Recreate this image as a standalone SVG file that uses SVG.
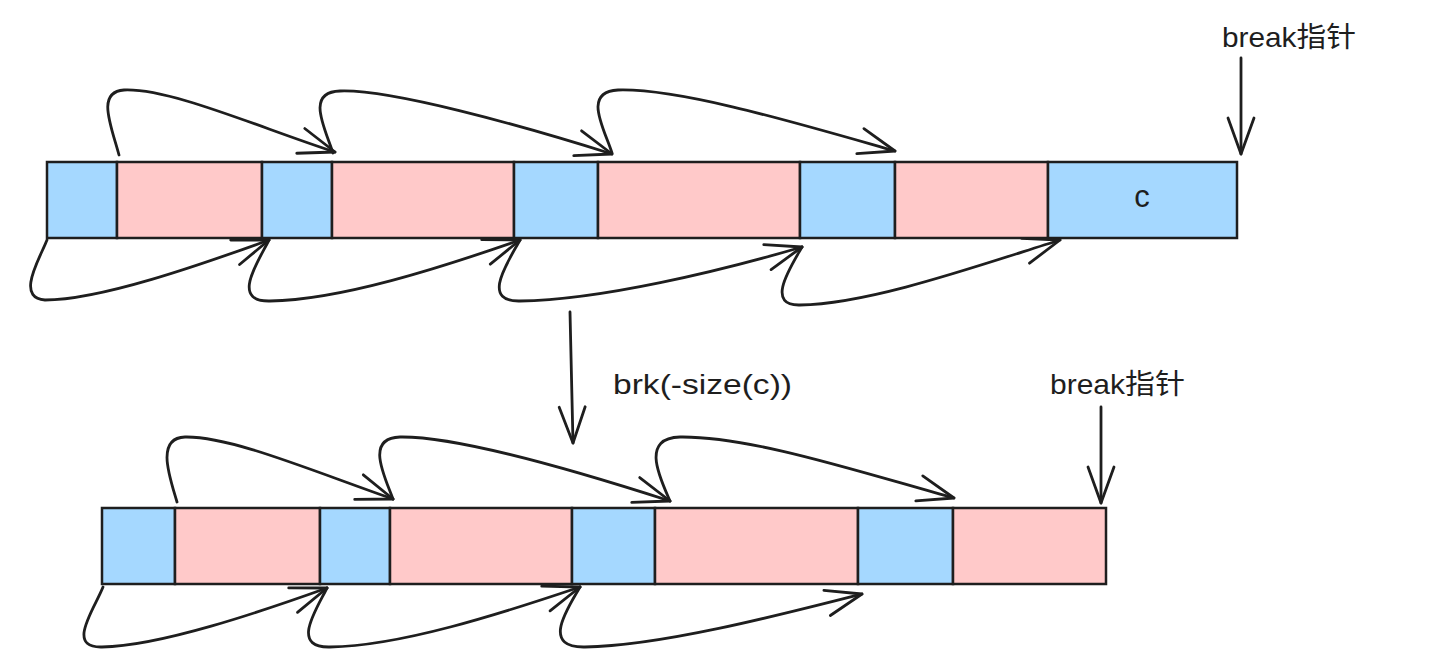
<svg xmlns="http://www.w3.org/2000/svg" width="1445" height="669" viewBox="0 0 1445 669">
<style>
.bg{fill:#ffffff}
.blue{fill:#a5d8ff;stroke:#1e1e1e;stroke-width:2.5}
.pink{fill:#ffc9c9;stroke:#1e1e1e;stroke-width:2.5}
.conn{fill:none;stroke:#1e1e1e;stroke-width:2.8;stroke-linecap:round;stroke-linejoin:round}
.lbl{font-family:"Liberation Sans","Noto Sans CJK SC",sans-serif;font-size:28px;fill:#1e1e1e}
</style>
<defs>
<marker id="ah" markerUnits="userSpaceOnUse" orient="auto" markerWidth="60" markerHeight="40" refX="0" refY="0" viewBox="-40 -20 60 40" overflow="visible">
<path d="M-36,-13 L0,0 L-36,13" fill="none" stroke="#1e1e1e" stroke-width="2.8" stroke-linecap="round" stroke-linejoin="round"/>
</marker>
</defs>
<rect class="bg" x="0" y="0" width="1445" height="669"/>

<g id="row1">
<g id="r1c1"><rect class="blue" x="47" y="162" width="70" height="76"/></g>
<g id="r1c2"><rect class="pink" x="117" y="162" width="145" height="76"/></g>
<g id="r1c3"><rect class="blue" x="262" y="162" width="70" height="76"/></g>
<g id="r1c4"><rect class="pink" x="332" y="162" width="182" height="76"/></g>
<g id="r1c5"><rect class="blue" x="514" y="162" width="84" height="76"/></g>
<g id="r1c6"><rect class="pink" x="598" y="162" width="202" height="76"/></g>
<g id="r1c7"><rect class="blue" x="800" y="162" width="95" height="76"/></g>
<g id="r1c8"><rect class="pink" x="895" y="162" width="153" height="76"/></g>
<g id="r1c9"><rect class="blue" x="1048" y="162" width="189" height="76"/><text class="lbl" x="1142" y="207" text-anchor="middle" style="font-size:31px">c</text></g>
</g>

<g id="row2">
<g id="r2c1"><rect class="blue" x="102" y="508" width="73" height="76"/></g>
<g id="r2c2"><rect class="pink" x="175" y="508" width="145" height="76"/></g>
<g id="r2c3"><rect class="blue" x="320" y="508" width="70" height="76"/></g>
<g id="r2c4"><rect class="pink" x="390" y="508" width="182" height="76"/></g>
<g id="r2c5"><rect class="blue" x="572" y="508" width="83" height="76"/></g>
<g id="r2c6"><rect class="pink" x="655" y="508" width="203" height="76"/></g>
<g id="r2c7"><rect class="blue" x="858" y="508" width="95" height="76"/></g>
<g id="r2c8"><rect class="pink" x="953" y="508" width="153" height="76"/></g>
</g>

<g id="labels">
<g id="label-break1"><text class="lbl" x="1222" y="47" textLength="134" lengthAdjust="spacingAndGlyphs">break指针</text></g>
<g id="label-brk"><text class="lbl" x="613" y="394" textLength="179" lengthAdjust="spacingAndGlyphs">brk(-size(c))</text></g>
<g id="label-break2"><text class="lbl" x="1050" y="394" textLength="135" lengthAdjust="spacingAndGlyphs">break指针</text></g>
</g>

<g id="connectors">
<path class="conn" marker-end="url(#ah)" d="M119,155 C111,125 96,92 124,90 C170,88 258,127 335,152"/>
<path class="conn" marker-end="url(#ah)" d="M333,153 C325,128 305,92 340,91 C390,89 520,125 612,154"/>
<path class="conn" marker-end="url(#ah)" d="M612,153 C604,128 582,92 618,90 C680,88 800,124 895,151"/>
<path class="conn" marker-end="url(#ah)" d="M47,240 C40,258 15,298 45,300 C100,300 200,265 269,240"/>
<path class="conn" marker-end="url(#ah)" d="M269,240 C258,262 230,302 270,301 C340,300 440,268 520,240"/>
<path class="conn" marker-end="url(#ah)" d="M520,240 C508,262 480,302 520,301 C600,300 720,271 802,247"/>
<path class="conn" marker-end="url(#ah)" d="M802,247 C790,268 765,306 800,305 C870,304 980,265 1060,240"/>
<path class="conn" marker-end="url(#ah)" d="M1241,58 L1241,154"/>
<path class="conn" marker-end="url(#ah)" d="M570,312 L573,443"/>
<path class="conn" marker-end="url(#ah)" d="M177,502 C170,478 155,438 185,437 C230,436 310,470 393,499"/>
<path class="conn" marker-end="url(#ah)" d="M393,499 C384,475 365,438 400,437 C460,436 580,472 670,501"/>
<path class="conn" marker-end="url(#ah)" d="M670,501 C660,478 640,438 680,437 C750,436 860,472 954,498"/>
<path class="conn" marker-end="url(#ah)" d="M103,587 C95,608 65,648 102,647 C160,646 260,612 327,588"/>
<path class="conn" marker-end="url(#ah)" d="M327,588 C316,610 290,648 330,647 C400,646 500,614 580,587"/>
<path class="conn" marker-end="url(#ah)" d="M580,587 C568,608 540,648 585,647 C660,646 780,615 862,594"/>
<path class="conn" marker-end="url(#ah)" d="M1101,407 L1101,503"/>
</g>
</svg>
